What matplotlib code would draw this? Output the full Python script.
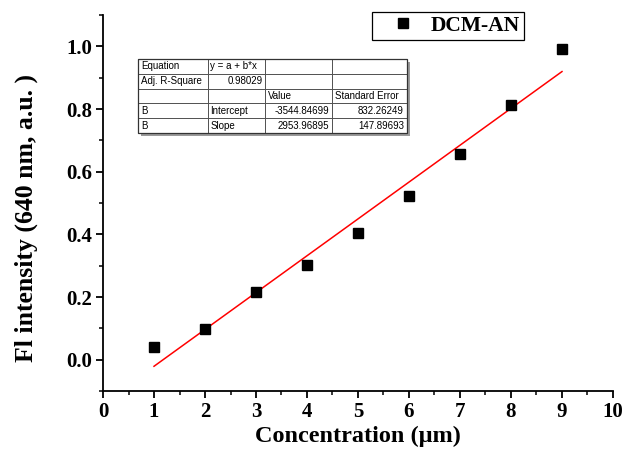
import numpy as np
import matplotlib
matplotlib.use("Agg")
import matplotlib.pyplot as plt
from matplotlib.patches import Rectangle

conc = [1, 2, 3, 4, 5, 6, 7, 8, 9]
intensity = [0.039, 0.098, 0.217, 0.303, 0.403, 0.523, 0.656, 0.812, 0.993]
series_name = "DCM-AN"
x_ticks = [0, 1, 2, 3, 4, 5, 6, 7, 8, 9, 10]
y_ticks = [0.0, 0.2, 0.4, 0.6, 0.8, 1.0]
table_rows = [
    ["Equation", "y = a + b*x", "", ""],
    ["Adj. R-Square", "0.98029", "", ""],
    ["", "", "Value", "Standard Error"],
    ["B", "Intercept", "-3544.84699", "832.26249"],
    ["B", "Slope", "2953.96895", "147.89693"],
]

plt.rcParams['font.family'] = ['Liberation Serif', 'DejaVu Serif']
fig = plt.figure(figsize=(6.3, 4.57), dpi=100)
ax = fig.add_axes([0.1635, 0.1444, 0.8095, 0.8226])

ax.plot(conc, intensity, 's', color='black', ms=7, label=series_name, zorder=3)
b, a = np.polyfit(conc, intensity, 1)
xf = np.array([conc[0], conc[-1]])
ax.plot(xf, a + b * xf, '-', color='red', lw=1.1, zorder=2)

ax.set_xlim(0, 10)
ax.set_ylim(-0.1, 1.1)
ax.set_xticks(x_ticks)
ax.set_yticks(y_ticks)
ax.set_xticks(np.arange(0.5, 10, 1.0), minor=True)
ax.set_yticks(np.arange(-0.1, 1.11, 0.2), minor=True)
ax.set_yticklabels([f"{v:.1f}" for v in y_ticks])
ax.spines['top'].set_visible(False)
ax.spines['right'].set_visible(False)
for s in ['left', 'bottom']:
    ax.spines[s].set_linewidth(1.3)
ax.tick_params(which='major', direction='out', length=5, width=1.3, labelsize=15, pad=3)
ax.tick_params(which='minor', direction='out', length=3, width=1.1)
for lab in ax.get_xticklabels() + ax.get_yticklabels():
    lab.set_fontweight('bold')

ax.set_xlabel("Concentration (μm)", fontsize=17.5, fontweight='bold', labelpad=3)
ax.set_ylabel("Fl intensity (640 nm, a.u. )", fontsize=18.5, fontweight='bold')
ax.yaxis.set_label_coords(-0.127, 0.46)

leg = ax.legend(loc='upper left', bbox_to_anchor=(0.527, 1.008), borderaxespad=0,
                fancybox=False, edgecolor='black', framealpha=1,
                prop={'family': 'Liberation Serif', 'weight': 'bold', 'size': 15.5},
                handletextpad=0.05, borderpad=0.18, handlelength=2.5)
leg.get_frame().set_linewidth(0.9)

# inset results table
tl, tr, tt, tb = 0.0686, 0.596, 0.883, 0.686
ax.add_patch(Rectangle((tl + 0.005, tb - 0.007), tr - tl, tt - tb, transform=ax.transAxes,
                       facecolor='#9a9a9a', edgecolor='none', zorder=4))
colw = np.array([70, 57, 67, 75], dtype=float)
colw = colw / colw.sum()
tbl = ax.table(cellText=table_rows, bbox=[tl, tb, tr - tl, tt - tb], colWidths=list(colw),
               cellLoc='left', zorder=5)
tbl.auto_set_font_size(False)
for (r, c), cell in tbl.get_celld().items():
    cell.set_facecolor('white')
    cell.set_edgecolor('#444444')
    cell.set_linewidth(0.6)
    txt = cell.get_text()
    txt.set_fontsize(7)
    txt.set_fontfamily('Liberation Sans')
    cell.PAD = 0.04
    if (r == 1 and c == 1) or (r >= 3 and c >= 2):
        cell.set_text_props(ha='right')
        cell._loc = 'right'
ax.add_patch(Rectangle((tl, tb), tr - tl, tt - tb, transform=ax.transAxes,
                       facecolor='none', edgecolor='#333333', lw=0.9, zorder=6))

fig.savefig("out.png", dpi=100)
